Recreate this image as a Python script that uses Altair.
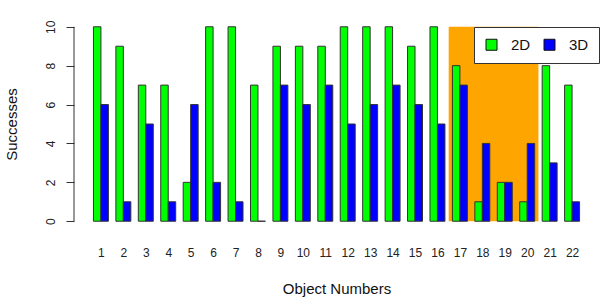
import altair as alt
import pandas as pd

objects = list(range(1, 22 + 1))
succ_2d = [10, 9, 7, 7, 2, 10, 10, 7, 9, 9, 9, 10, 10, 10, 9, 10, 8, 1, 2, 1, 8, 7]
succ_3d = [6, 1, 5, 1, 6, 2, 1, 0, 7, 6, 7, 5, 6, 7, 6, 5, 7, 4, 2, 4, 3, 1]
series_names = ["2D", "3D"]
series_colors = ["#00FF00", "#0000FF"]
highlight_range = [17, 20]
y_ticks = [0, 2, 4, 6, 8, 10]

rows = []
for o, a, b in zip(objects, succ_2d, succ_3d):
    rows.append({"obj": o, "series": "2D", "k": 0, "value": a})
    rows.append({"obj": o, "series": "3D", "k": 1, "value": b})
df = pd.DataFrame(rows)
hl = pd.DataFrame({"start": [highlight_range[0]], "end": [highlight_range[1]], "top": [10]})
axis_df = pd.DataFrame({"y0": [y_ticks[0]], "y1": [y_ticks[-1]]})

FONT = "Liberation Sans"
xscale = alt.Scale(domain=[-1.6, 68.6], nice=False, zero=False)
yscale = alt.Scale(domain=[-0.4, 10.4], nice=False, zero=False)

xaxis = alt.Axis(
    values=[3 * (o - 1) + 2 for o in objects],
    labelExpr="(datum.value+1)/3", labelOverlap=False, labelBound=False,
    labelFlush=False,
    domain=False, ticks=False, tickSize=0, grid=False,
    labelPadding=18, labelFontSize=12, labelFont=FONT, labelColor="#222",
    title="Object Numbers", titleFont=FONT, titleFontSize=15,
    titleFontWeight="normal", titleColor="#111",
    titleX=262.5, titleY=59, titleBaseline="middle", titleAlign="center",
)
yaxis = alt.Axis(
    values=y_ticks, domain=False, grid=False, tickSize=8, tickColor="#333",
    labelAngle=270, labelAlign="center", labelBaseline="bottom",
    labelPadding=9, labelFontSize=12, labelFont=FONT, labelColor="#222",
    labelOverlap=False,
    title="Successes", titleFont=FONT, titleFontSize=15,
    titleFontWeight="normal", titleColor="#111",
    titleX=-63, titleY=105, titleAngle=270, titleBaseline="middle",
    titleAlign="center",
)

orange = alt.Chart(hl).transform_calculate(
    x0="3*(datum.start-1)+0.5", x1="3*datum.end+0.5"
).mark_rect(color="#FFA500").encode(
    x=alt.X("x0:Q", scale=xscale, axis=xaxis),
    x2="x1:Q",
    y=alt.Y("top:Q", scale=yscale, axis=yaxis),
    y2=alt.datum(0),
)

bars = alt.Chart(df).transform_calculate(
    left="3*(datum.obj-1)+1+datum.k", right="3*(datum.obj-1)+2+datum.k"
).mark_rect(stroke="#333333", strokeWidth=1).encode(
    x=alt.X("left:Q", scale=xscale, axis=xaxis),
    x2="right:Q",
    y=alt.Y("value:Q", scale=yscale, axis=yaxis),
    y2=alt.datum(0),
    color=alt.Color(
        "series:N",
        scale=alt.Scale(domain=series_names, range=series_colors),
        legend=alt.Legend(
            title=None, orient="none", legendX=400, legendY=8,
            direction="horizontal", columns=2, symbolType="square",
            symbolSize=121, symbolStrokeColor="#111", symbolStrokeWidth=1,
            symbolOpacity=1, labelFont=FONT, labelFontSize=15, labelColor="#111",
            labelOffset=12, columnPadding=11, padding=10,
            strokeColor="#333", fillColor="white",
        ),
    ),
)

yaxis_line = alt.Chart(axis_df).mark_rule(color="#333", strokeWidth=1).encode(
    x=alt.value(0), y=alt.Y("y0:Q", scale=yscale, axis=yaxis), y2="y1:Q"
)

chart = alt.layer(orange, bars, yaxis_line).properties(
    width=525, height=210,
    background="white",
    autosize=alt.AutoSizeParams(type="none"),
    padding={"left": 74, "top": 19, "right": 1, "bottom": 72},
).configure_view(strokeWidth=0, stroke=None).configure_axis(
    domain=False, grid=False
)

chart.save("out.html", embed_options={"renderer": "svg", "actions": False})
